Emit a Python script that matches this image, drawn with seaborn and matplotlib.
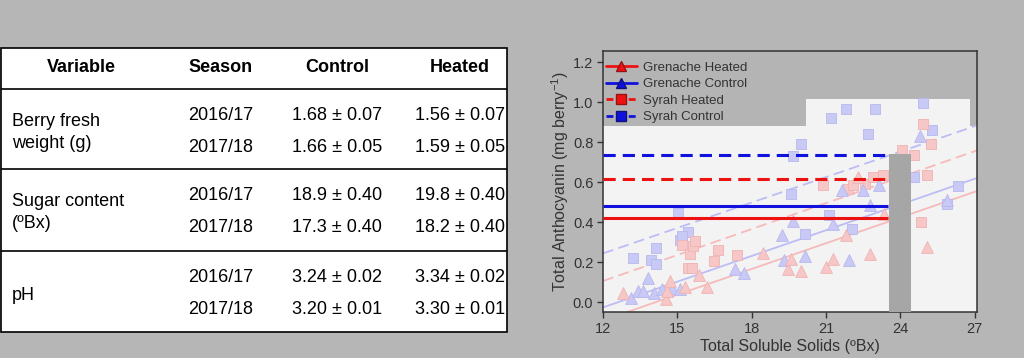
import matplotlib
matplotlib.use('Agg')
import matplotlib.pyplot as plt
import seaborn as sns
import pandas as pd
from matplotlib.patches import Rectangle
from matplotlib.lines import Line2D

# ---- table values ----
header = ['Variable', 'Season', 'Control', 'Heated']
variables = [['Berry fresh', 'weight (g)'], ['Sugar content', '(ºBx)'], ['pH']]
seasons = ['2016/17', '2017/18']
control_vals = [['1.68 ± 0.07', '1.66 ± 0.05'],
                ['18.9 ± 0.40', '17.3 ± 0.40'],
                ['3.24 ± 0.02', '3.20 ± 0.01']]
heated_vals = [['1.56 ± 0.07', '1.59 ± 0.05'],
               ['19.8 ± 0.40', '18.2 ± 0.40'],
               ['3.34 ± 0.02', '3.30 ± 0.01']]

# ---- scatter values (TSS, anthocyanin) ----
syrah_control_x = [13.22, 13.93, 14.12, 14.13, 15.02, 15.1, 15.42, 15.2, 19.59, 19.68, 19.99,
                   21.19, 21.8, 23.0, 22.68, 24.9, 25.27, 24.55, 26.32, 25.88, 21.14, 20.17, 22.04]
syrah_control_y = [0.222, 0.212, 0.192, 0.272, 0.445, 0.312, 0.35, 0.33, 0.542, 0.73, 0.792,
                   0.922, 0.963, 0.963, 0.842, 0.995, 0.862, 0.625, 0.58, 0.492, 0.436, 0.342, 0.365]
syrah_heated_x = [15.18, 15.5, 15.62, 15.71, 15.42, 15.6, 16.49, 16.63, 17.4, 20.9, 21.9, 22.08,
                  22.58, 22.89, 23.32, 24.06, 24.57, 25.07, 24.84, 24.9, 25.23]
syrah_heated_y = [0.283, 0.242, 0.278, 0.305, 0.172, 0.172, 0.203, 0.262, 0.233, 0.583, 0.567, 0.583,
                  0.592, 0.625, 0.635, 0.758, 0.733, 0.633, 0.402, 0.892, 0.792]
gren_control_x = [13.12, 13.43, 13.63, 13.8, 14.07, 14.37, 14.8, 15.1, 17.33, 17.7, 19.21, 19.68,
                  19.3, 20.17, 21.3, 21.93, 21.65, 22.5, 23.16, 22.78, 24.78, 25.88]
gren_control_y = [0.022, 0.055, 0.055, 0.122, 0.045, 0.067, 0.07, 0.065, 0.167, 0.147, 0.337, 0.405,
                  0.208, 0.228, 0.392, 0.208, 0.558, 0.562, 0.586, 0.486, 0.828, 0.512]
gren_heated_x = [12.82, 14.54, 14.57, 14.7, 15.3, 15.86, 16.2, 18.48, 19.48, 19.59, 19.99, 21.0,
                 21.28, 21.8, 22.78, 23.33, 22.28, 25.07]
gren_heated_y = [0.047, 0.015, 0.055, 0.107, 0.075, 0.133, 0.077, 0.246, 0.167, 0.217, 0.155, 0.175,
                 0.217, 0.337, 0.238, 0.442, 0.624, 0.277]

# fitted lines (end points) and treatment means
fit_x = [12, 27.1]
fit_syrah_control = [0.243, 0.883]
fit_syrah_heated = [0.105, 0.758]
fit_gren_control = [-0.027, 0.62]
fit_gren_heated = [-0.092, 0.555]
mean_labels = ['Grenache Heated', 'Grenache Control', 'Syrah Heated', 'Syrah Control']
mean_values = [0.42, 0.478, 0.617, 0.737]
mean_end = 23.5

sns.set_theme(style='ticks')
plt.rcParams['font.family'] = ['Liberation Sans', 'DejaVu Sans']
plt.rcParams['mathtext.default'] = 'regular'

BG = '#b5b6b5'
fig = plt.figure(figsize=(10.24, 3.58), dpi=100, facecolor=BG)

# ---- table (pixel coordinates) ----
tab = fig.add_axes([0, 0, 1, 1], zorder=0)
tab.set_xlim(0, 1024)
tab.set_ylim(358, 0)
tab.axis('off')
tab.add_patch(Rectangle((0.8, 48), 506, 284, facecolor='white', edgecolor='black', lw=1.2))
tab.hlines([89, 169, 251], 0.8, 506.8, color='black', lw=1.2)
col_x = [81, 221, 337, 460]
for cx, h in zip(col_x, header):
    tab.text(cx, 68, h, ha='center', va='center', fontsize=13, fontweight='bold', color='black')
sec_top = [89, 169, 251]
for i, top in enumerate(sec_top):
    for j in range(2):
        ry = top + (26 if j == 0 else 59)
        tab.text(col_x[1], ry, seasons[j], ha='center', va='center', fontsize=13, color='black')
        tab.text(col_x[2], ry, control_vals[i][j], ha='center', va='center', fontsize=13, color='black')
        tab.text(col_x[3], ry, heated_vals[i][j], ha='center', va='center', fontsize=13, color='black')
    lines = variables[i]
    if len(lines) == 2:
        tab.text(12, top + 32, lines[0], ha='left', va='center', fontsize=13, color='black')
        tab.text(12, top + 54, lines[1], ha='left', va='center', fontsize=13, color='black')
    else:
        tab.text(12, top + 45, lines[0], ha='left', va='center', fontsize=13, color='black')

# ---- scatter plot ----
ax = fig.add_axes([603 / 1024, 1 - 312 / 358, 374 / 1024, 261 / 358], zorder=2)
ax.set_facecolor('#b4b4b4')
ax.set_xlim(12, 27.1)
ax.set_ylim(-0.05, 1.255)

light = '#f3f3f3'
ax.add_patch(Rectangle((12, -0.05), 15.1, 0.928, facecolor=light, edgecolor='none', zorder=0.5))
ax.add_patch(Rectangle((20.2, 0.85), 6.6, 0.165, facecolor=light, edgecolor='none', zorder=0.5))

pts = pd.concat([
    pd.DataFrame({'x': syrah_control_x, 'y': syrah_control_y, 'grp': 'Syrah Control'}),
    pd.DataFrame({'x': syrah_heated_x, 'y': syrah_heated_y, 'grp': 'Syrah Heated'}),
])
tri = pd.concat([
    pd.DataFrame({'x': gren_control_x, 'y': gren_control_y, 'grp': 'Grenache Control'}),
    pd.DataFrame({'x': gren_heated_x, 'y': gren_heated_y, 'grp': 'Grenache Heated'}),
])
fill = {'Syrah Control': '#c9c9f6', 'Syrah Heated': '#f7c7c7',
        'Grenache Control': '#c9c9f6', 'Grenache Heated': '#f7c7c7'}
for grp, d in pts.groupby('grp'):
    sns.scatterplot(data=d, x='x', y='y', marker='s', s=52, color=fill[grp],
                    edgecolor='#b7b7ee' if 'Control' in grp else '#eeb3b3', linewidth=0.6,
                    ax=ax, zorder=2, legend=False)
for grp, d in tri.groupby('grp'):
    sns.scatterplot(data=d, x='x', y='y', marker='^', s=72, color=fill[grp],
                    edgecolor='#b7b7ee' if 'Control' in grp else '#eeb3b3', linewidth=0.6,
                    ax=ax, zorder=2, legend=False)

lb, lr = '#bcbcf6', '#f6baba'
sns.lineplot(x=fit_x, y=fit_syrah_control, color=lb, lw=1.3, ax=ax, zorder=1.5).lines[-1].set_dashes((6, 3))
sns.lineplot(x=fit_x, y=fit_syrah_heated, color=lr, lw=1.3, ax=ax, zorder=1.5).lines[-1].set_dashes((6, 3))
sns.lineplot(x=fit_x, y=fit_gren_control, color=lb, lw=1.3, ax=ax, zorder=1.5)
sns.lineplot(x=fit_x, y=fit_gren_heated, color=lr, lw=1.3, ax=ax, zorder=1.5)

mean_col = {'Grenache Heated': '#ee1111', 'Grenache Control': '#1111dd',
            'Syrah Heated': '#ee1111', 'Syrah Control': '#1111dd'}
for lab, v in zip(mean_labels, mean_values):
    ls = (0, (4, 2.3)) if 'Syrah' in lab else '-'
    ax.hlines(v, 12, mean_end, color=mean_col[lab], lw=2.2, linestyles=[ls], zorder=3)

# dark strip
ax.add_patch(Rectangle((23.55, -0.05), 0.87, 0.79, facecolor='#a6a6a6', edgecolor='none', zorder=4))

ax.set_xticks([12, 15, 18, 21, 24, 27])
ax.set_yticks([0.0, 0.2, 0.4, 0.6, 0.8, 1.0, 1.2])
ax.set_yticklabels(['0.0', '0.2', '0.4', '0.6', '0.8', '1.0', '1.2'])
ax.tick_params(direction='out', length=4, width=1, colors='#333333', labelsize=10.5, pad=3)
for sp in ax.spines.values():
    sp.set_visible(True)
    sp.set_color('#333333')
    sp.set_linewidth(1.1)
ax.set_xlabel('Total Soluble Solids (ºBx)', fontsize=11.5, color='#333333', labelpad=2)
ax.set_ylabel('Total Anthocyanin (mg berry$^{-1}$)', fontsize=11.5, color='#333333', labelpad=1)

handles = [
    Line2D([], [], color='#ee1111', lw=2, marker='^', ms=7, mfc='#ee1111', mec='#991111'),
    Line2D([], [], color='#1111dd', lw=2, marker='^', ms=7, mfc='#1111dd', mec='#111177'),
    Line2D([], [], color='#ee1111', lw=2, ls=(0, (2.5, 1.5)), marker='s', ms=6.5, mfc='#ee1111', mec='#991111'),
    Line2D([], [], color='#1111dd', lw=2, ls=(0, (2.5, 1.5)), marker='s', ms=6.5, mfc='#1111dd', mec='#111177'),
]
leg = ax.legend(handles, mean_labels, loc='upper left', bbox_to_anchor=(0.0, 0.97), frameon=False,
                fontsize=9.5, handlelength=2.4, handletextpad=0.45, labelspacing=0.33,
                borderaxespad=0.1, borderpad=0.1)
for t in leg.get_texts():
    t.set_color('#333333')

fig.savefig('out.png', dpi=100, facecolor=BG)
